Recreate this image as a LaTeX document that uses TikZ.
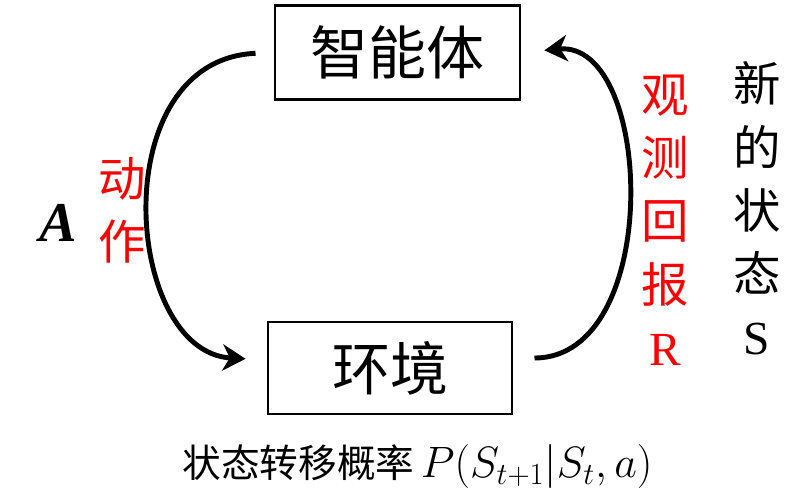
\RequirePackage{fix-cm}
\documentclass[tikz,border=0pt]{standalone}
\usepackage{fontspec}
\usepackage{amsmath,amssymb}
\usepackage{tikz}
\usetikzlibrary{arrows.meta}
\newfontfamily\cjk{Noto Sans CJK SC}
\newfontfamily\tms{Liberation Serif}
\tikzset{
  box/.style={draw, line width=1.7pt, minimum width=4.9cm, minimum height=1.88cm,
    font=\cjk\fontsize{33}{38}\selectfont},
  loop/.style={->, line width=2.8pt},
  vlabel/.style={align=center, inner sep=0pt, font=\cjk\fontsize{27}{36}\selectfont}
}

\begin{document}
\begin{tikzpicture}[>={Stealth[length=13pt,width=15pt,inset=4pt]}]
\useasboundingbox (0,0) rectangle (16.18,10.06);
\node[box] (agent) at (7.95,9.01) {智能体};
\node[box, minimum width=4.88cm, minimum height=1.84cm] (env) at (7.8,2.7) {环境};

\node[inner sep=0pt, font=\tms\bfseries\itshape\fontsize{32}{36}\selectfont] (act) at (1.16,5.6) {A};
\node[vlabel, text=red] (actcn) at (2.44,5.86) {动\\作};
\node[vlabel, text=red] (obs) at (13.3,5.66) {观\\测\\回\\报\\{\tms R}};
\node[vlabel] (state) at (15.14,5.89) {新\\的\\状\\态\\{\tms S}};

\node[inner sep=0pt, font=\cjk\fontsize{22}{26}\selectfont] (trans) at (8.35,0.72)
  {状态转移概率\,{\fontsize{25}{30}\selectfont$P(S_{t+1}|S_t,a)$}};

\draw[loop, shorten <=0.36cm, shorten >=0.42cm] (agent.west)
  .. controls +(-3.4,-0.15) and +(-2.86,0.16) .. ([yshift=0.16cm]env.west);
\draw[loop, shorten <=0.42cm, shorten >=0.46cm] ([yshift=0.2cm]env.east)
  .. controls +(3.0,0) and +(2.65,0.25) .. (agent.east);
\end{tikzpicture}
\end{document}
